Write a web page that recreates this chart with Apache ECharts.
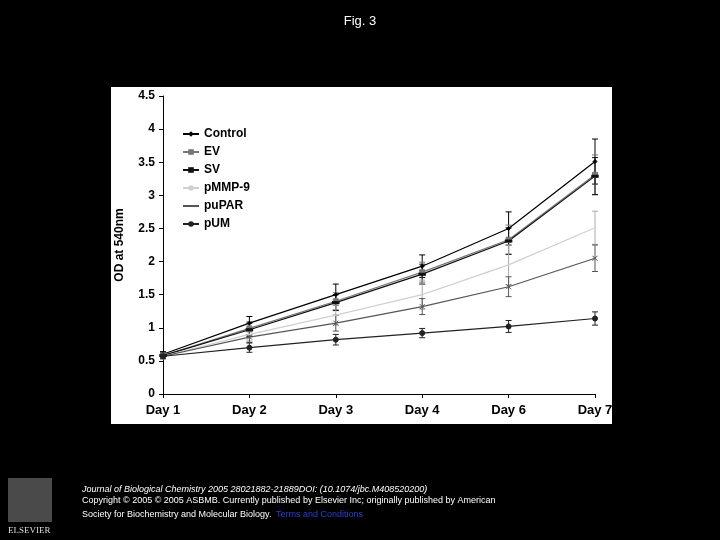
<!DOCTYPE html>
<html>
<head>
<meta charset="utf-8">
<script src="https://cdn.jsdelivr.net/npm/echarts@6/dist/echarts.min.js"></script>
<style>html,body{margin:0;padding:0;background:#000;}#c{width:720px;height:540px;}</style>
</head>
<body>
<div id="c"></div>
<script>
var categories = ['Day 1','Day 2','Day 3','Day 4','Day 6','Day 7'];
var control = [0.60, 1.07, 1.50, 1.93, 2.50, 3.51];
var ev      = [0.58, 0.99, 1.40, 1.84, 2.33, 3.31];
var sv      = [0.58, 0.97, 1.38, 1.81, 2.31, 3.29];
var pmmp9   = [0.57, 0.90, 1.19, 1.50, 1.95, 2.51];
var pupar   = [0.57, 0.86, 1.07, 1.32, 1.62, 2.05];
var pum     = [0.57, 0.70, 0.82, 0.92, 1.02, 1.14];
var controlErr = [0.04, 0.10, 0.16, 0.17, 0.25, 0.34];
var evErr      = [0.04, 0.10, 0.13, 0.15, 0.22, 0.30];
var svErr      = [0.04, 0.10, 0.12, 0.15, 0.20, 0.28];
var pmmp9Err   = [0.04, 0.10, 0.15, 0.22, 0.30, 0.25];
var puparErr   = [0.04, 0.08, 0.12, 0.12, 0.15, 0.20];
var pumErr     = [0.03, 0.07, 0.08, 0.07, 0.09, 0.10];

var defs = [
  {name:'Control', data:control, err:controlErr, color:'#000000', symbol:'diamond', size:4},
  {name:'EV', data:ev, err:evErr, color:'#777777', symbol:'rect', size:5},
  {name:'SV', data:sv, err:svErr, color:'#111111', symbol:'rect', size:[5,2]},
  {name:'pMMP-9', data:pmmp9, err:pmmp9Err, color:'#d0d0d0', symbol:'none', size:0},
  {name:'puPAR', data:pupar, err:puparErr, color:'#555555', symbol:'path://M0,0L10,10M10,0L0,10', size:5},
  {name:'pUM', data:pum, err:pumErr, color:'#222222', symbol:'circle', size:5}
];

var series = [];
defs.forEach(function(d){
  series.push({
    name: d.name, type:'line', data:d.data, symbol:d.symbol, symbolSize:d.size,
    showSymbol: d.symbol !== 'none',
    lineStyle:{color:d.color, width:1.2}, itemStyle:{color:d.color, borderColor:d.color},
    emphasis:{disabled:true}, z:3
  });
  var ed = d.data.map(function(v,i){return [i, v - d.err[i], v + d.err[i]];});
  series.push({
    name: d.name, type:'custom', data: ed, z:2, silent:true,
    renderItem: function(params, api){
      var x = api.value(0);
      var lo = api.coord([x, api.value(1)]);
      var hi = api.coord([x, api.value(2)]);
      var w = 3;
      var st = {stroke: d.color === '#d0d0d0' ? '#aaaaaa' : d.color, lineWidth:1};
      return {type:'group', children:[
        {type:'line', shape:{x1:lo[0], y1:lo[1], x2:hi[0], y2:hi[1]}, style:st},
        {type:'line', shape:{x1:lo[0]-w, y1:lo[1], x2:lo[0]+w, y2:lo[1]}, style:st},
        {type:'line', shape:{x1:hi[0]-w, y1:hi[1], x2:hi[0]+w, y2:hi[1]}, style:st}
      ]};
    },
    encode:{x:0, y:[1,2]}
  });
});

var chart = echarts.init(document.getElementById('c'));
chart.setOption({
  backgroundColor:'#000000',
  animation:false,
  title:{text:'Fig. 3', left:'center', top:10, textStyle:{color:'#ffffff', fontSize:13, fontWeight:'normal', fontFamily:'Liberation Sans, Arial'}},
  graphic:[
    {type:'rect', shape:{x:111, y:87, width:501, height:337}, style:{fill:'#ffffff'}, z:-10},
    {type:'text', left:82, top:485, style:{text:'Journal of Biological Chemistry 2005 28021882-21889DOI: (10.1074/jbc.M408520200)', fill:'#ffffff', font:'italic 9px Liberation Sans, Arial'}},
    {type:'text', left:82, top:496, style:{text:'Copyright © 2005 © 2005 ASBMB. Currently published by Elsevier Inc; originally published by American', fill:'#ffffff', font:'9px Liberation Sans, Arial'}},
    {type:'text', left:82, top:510, style:{text:'Society for Biochemistry and Molecular Biology.', fill:'#ffffff', font:'9px Liberation Sans, Arial'}},
    {type:'text', left:276, top:510, style:{text:'Terms and Conditions', fill:'#2a3fd0', font:'9px Liberation Sans, Arial'}},
    {type:'rect', shape:{x:8, y:478, width:44, height:44}, style:{fill:'#4a4a4a'}},
    {type:'text', left:8, top:526, style:{text:'ELSEVIER', fill:'#dddddd', font:'9px Liberation Serif, serif'}}
  ],
  legend:{
    orient:'vertical', left:177, top:123, itemGap:6, itemWidth:16, itemHeight:7,
    data: defs.map(function(d){return d.name;}),
    textStyle:{color:'#000', fontSize:12, fontWeight:'bold', fontFamily:'Liberation Sans, Arial'}
  },
  grid:{left:163, right:125, top:96, bottom:146},
  xAxis:{
    type:'category', data:categories, boundaryGap:false,
    axisLine:{lineStyle:{color:'#000'}},
    axisTick:{show:true, length:4, lineStyle:{color:'#000'}},
    axisLabel:{color:'#000', fontSize:13, fontWeight:'bold', fontFamily:'Liberation Sans, Arial', margin:10, interval:0}
  },
  yAxis:{
    type:'value', min:0, max:4.5, interval:0.5,
    name:'OD at 540nm', nameLocation:'middle', nameGap:37,
    nameTextStyle:{color:'#000', fontSize:12, fontWeight:'bold', fontFamily:'Liberation Sans, Arial'},
    axisLine:{show:true, lineStyle:{color:'#000'}},
    axisTick:{show:true, length:4, lineStyle:{color:'#000'}},
    splitLine:{show:false},
    axisLabel:{color:'#000', fontSize:12, fontWeight:'bold', fontFamily:'Liberation Sans, Arial', margin:8}
  },
  series: series
});
</script>
</body>
</html>
